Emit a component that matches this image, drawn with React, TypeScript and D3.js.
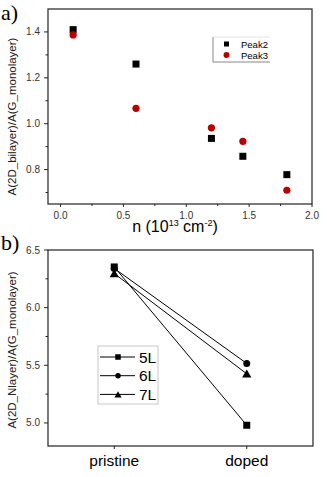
import * as d3 from "d3";

// panel a
const nValues = [0.1, 0.6, 1.2, 1.45, 1.8];
const peak2 = [1.41, 1.26, 0.936, 0.858, 0.778];
const peak3 = [1.387, 1.067, 0.982, 0.923, 0.71];
const aXTicks = [0, 0.5, 1.0, 1.5, 2.0];
const aXMinor = [0.25, 0.75, 1.25, 1.75];
const aYTicks = [0.8, 1.0, 1.2, 1.4];
const aYMinor = [0.7, 0.9, 1.1, 1.3];

// panel b
const categories = ["pristine", "doped"];
const layerNames = ["5L", "6L", "7L"];
const layer5 = [6.353, 4.98];
const layer6 = [6.34, 5.516];
const layer7 = [6.296, 5.426];
const bYTicks = [5.0, 5.5, 6.0, 6.5];
const bYMinor = [5.25, 5.75, 6.25];

const font = "Liberation Sans, Arial, sans-serif";

const Marker = ({ kind, x, y, s }) => {
  if (kind === "square") return <rect x={x - s / 2} y={y - s / 2} width={s} height={s} fill="black" />;
  if (kind === "circle") return <circle cx={x} cy={y} r={s / 2} fill="black" />;
  const tri = d3.symbol(d3.symbolTriangle, s * s * 0.75)();
  return <path d={tri} transform={`translate(${x},${y + 1})`} fill="black" />;
};

const App = () => {
  // ---- panel a scales
  const ax = d3.scaleLinear().domain([-0.1, 2.0]).range([48, 312]);
  const ay = d3.scaleLinear().domain([0.65, 1.5]).range([204, 9]);

  // ---- panel b scales
  const bx = d3.scaleLinear().domain([0.5, 2.5]).range([48, 313]);
  const by = d3.scaleLinear().domain([4.8, 6.5]).range([446, 250]);

  const series = [layer5, layer6, layer7];
  const kinds = ["square", "circle", "triangle"];
  const line = d3
    .line()
    .x((d, i) => bx(i + 1))
    .y((d) => by(d));

  const tickText = { fontSize: 10, fill: "#333", fontFamily: font };

  return (
    <svg width={327} height={477} style={{ position: "absolute", left: 0, top: 0, background: "white" }}>
      {/* ================= a) ================= */}
      <text x={1} y={20} fontFamily="Liberation Serif, Times New Roman, serif" fontSize={22}>a)</text>
      <rect x={48} y={9} width={264} height={195} fill="none" stroke="#222" strokeWidth={1.2} />
      {aXTicks.map((t) => (
        <g key={"ax" + t}>
          <line x1={ax(t)} x2={ax(t)} y1={204} y2={207} stroke="#222" />
          <text x={ax(t)} y={219} textAnchor="middle" {...tickText}>{t.toFixed(1)}</text>
        </g>
      ))}
      {aXMinor.map((t) => (
        <line key={"axm" + t} x1={ax(t)} x2={ax(t)} y1={204} y2={206} stroke="#222" />
      ))}
      {aYTicks.map((t) => (
        <g key={"ay" + t}>
          <line x1={44} x2={48} y1={ay(t)} y2={ay(t)} stroke="#222" />
          <text x={40} y={ay(t) + 3.5} textAnchor="end" {...tickText}>{t.toFixed(1)}</text>
        </g>
      ))}
      {aYMinor.map((t) => (
        <line key={"aym" + t} x1={45.5} x2={48} y1={ay(t)} y2={ay(t)} stroke="#222" />
      ))}
      <text
        transform={`translate(16,${(9 + 204) / 2 + 10}) rotate(-90)`}
        textAnchor="middle"
        fontFamily={font}
        fontSize={11.5}
        fill="#222"
      >
        A(2D_bilayer)/A(G_monolayer)
      </text>
      <text x={175} y={232} textAnchor="middle" fontFamily={font} fontSize={16}>
        n (10<tspan dy={-6} fontSize={9}>13</tspan>
        <tspan dy={6}> cm</tspan>
        <tspan dy={-6} fontSize={9}>-2</tspan>
        <tspan dy={6}>)</tspan>
      </text>
      {nValues.map((n, i) => (
        <rect key={"p2" + i} x={ax(n) - 3.5} y={ay(peak2[i]) - 3.5} width={7} height={7} fill="black" />
      ))}
      {nValues.map((n, i) => (
        <circle key={"p3" + i} cx={ax(n)} cy={ay(peak3[i])} r={3.6} fill="#b80000" />
      ))}
      {/* legend a */}
      <line x1={213} x2={213} y1={37} y2={62} stroke="#888" />
      <line x1={213} x2={270} y1={62} y2={62} stroke="#888" />
      <line x1={213} x2={270} y1={37} y2={37} stroke="#e4e4e4" />
      <rect x={224} y={41.5} width={5} height={5} fill="black" />
      <text x={241} y={47.5} fontFamily={font} fontSize={9.5}>Peak2</text>
      <circle cx={226.5} cy={55} r={3} fill="#b80000" />
      <text x={241} y={58.5} fontFamily={font} fontSize={9.5}>Peak3</text>

      {/* ================= b) ================= */}
      <text x={1} y={250} fontFamily="Liberation Serif, Times New Roman, serif" fontSize={22}>b)</text>
      <rect x={48} y={250} width={265} height={196} fill="none" stroke="#222" strokeWidth={1.2} />
      {categories.map((c, i) => (
        <g key={c}>
          <line x1={bx(i + 1)} x2={bx(i + 1)} y1={446} y2={449} stroke="#222" />
          <text x={bx(i + 1)} y={466} textAnchor="middle" fontFamily={font} fontSize={15.5}>{c}</text>
        </g>
      ))}
      {bYTicks.map((t) => (
        <g key={"by" + t}>
          <line x1={44} x2={48} y1={by(t)} y2={by(t)} stroke="#222" />
          <text x={40} y={by(t) + 3.5} textAnchor="end" {...tickText}>{t.toFixed(1)}</text>
        </g>
      ))}
      {bYMinor.map((t) => (
        <line key={"bym" + t} x1={45.5} x2={48} y1={by(t)} y2={by(t)} stroke="#222" />
      ))}
      <text
        transform={`translate(16,350) rotate(-90)`}
        textAnchor="middle"
        fontFamily={font}
        fontSize={11.5}
        fill="#222"
      >
        A(2D_Nlayer)/A(G_monolayer)
      </text>
      {series.map((s, k) => (
        <g key={"s" + k}>
          <path d={line(s)} fill="none" stroke="black" strokeWidth={1} />
          {s.map((v, i) => (
            <Marker key={i} kind={kinds[k]} x={bx(i + 1)} y={by(v)} s={7} />
          ))}
        </g>
      ))}
      {/* legend b */}
      <rect x={98} y={346} width={60} height={58} fill="white" stroke="#c8c8c8" />
      {layerNames.map((name, k) => {
        const y = 357 + k * 18.7;
        return (
          <g key={name}>
            <line x1={100} x2={135} y1={y} y2={y} stroke="black" />
            <Marker kind={kinds[k]} x={118} y={y} s={5.5} />
            <text x={139} y={y + 5.5} fontFamily={font} fontSize={15.5}>{name}</text>
          </g>
        );
      })}
    </svg>
  );
};

export default App;
